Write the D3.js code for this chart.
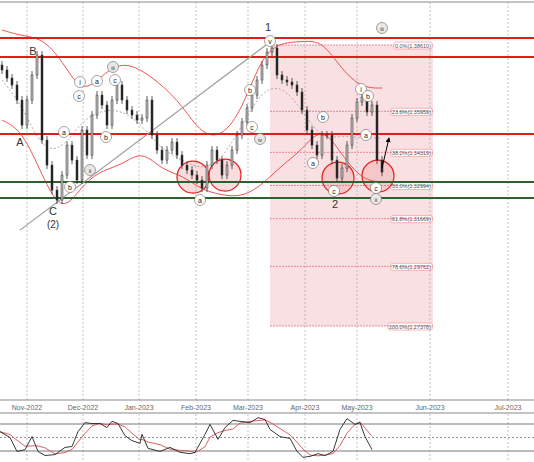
<!DOCTYPE html><html><head><meta charset="utf-8">
<script src="https://cdn.jsdelivr.net/npm/d3@7/dist/d3.min.js"></script>
<style>body{margin:0;background:#fff}svg{display:block;font-family:"Liberation Sans",Arial,sans-serif}</style></head><body>
<script>
const closes=[1.3761,1.3729,1.3701,1.3641,1.3541,1.3641,1.3741,1.3821,1.3481,1.3381,1.3281,1.3241,1.3341,1.3461,1.3401,1.3321,1.3521,1.3421,1.3581,1.3661,1.3621,1.3541,1.3641,1.3701,1.3641,1.3601,1.3581,1.3561,1.3569,1.3641,1.3501,1.3441,1.3401,1.3441,1.3473,1.3421,1.3381,1.3361,1.3341,1.3321,1.3289,1.3381,1.3441,1.3401,1.3341,1.3381,1.3441,1.3501,1.3553,1.3609,1.3661,1.3721,1.3781,1.3833,1.3849,1.3741,1.3721,1.3713,1.3701,1.3673,1.3601,1.3521,1.3461,1.3421,1.3501,1.3501,1.3401,1.3329,1.3369,1.3461,1.3569,1.3633,1.3653,1.3593,1.3621,1.3401,1.3353];
const bandIdx=[0,4,8,12,16,20,24,28,32,36,40,44,48,52,56,60,64,68,72,76];
const upperBand=[1.3921,1.3897,1.3889,1.3801,1.3661,1.3741,1.3793,1.3761,1.3701,1.3621,1.3501,1.3493,1.3601,1.3821,1.3873,1.3873,1.3881,1.3761,1.3689,1.3689];
const lowerBand=[1.3561,1.3521,1.3341,1.3181,1.3301,1.3361,1.3381,1.3441,1.3361,1.3341,1.3281,1.3261,1.3253,1.3301,1.3381,1.3441,1.3541,1.3421,1.3321,1.3313];
const midBand=[1.3721,1.3621,1.3441,1.3441,1.3561,1.3601,1.3601,1.3541,1.3441,1.3401,1.3361,1.3401,1.3541,1.3681,1.3701,1.3601,1.3481,1.3501,1.3489,1.3489];
const redLevels=[1.3889,1.3813,1.3505];
const greenLevels=[1.3313,1.3249];
const fibPct=["0.0%","23.6%","38.2%","50.0%","61.8%","78.6%","100.0%"];
const fibPrice=[1.38610,1.35959,1.34319,1.32994,1.31669,1.29762,1.27378];
const months=["Nov-2022","Dec-2022","Jan-2023","Feb-2023","Mar-2023","Apr-2023","May-2023","Jun-2023","Jul-2023"];
const monthIdx=[5,16.2,27.4,38.8,49.2,60.6,71,85.6,101.2];
const circleIdx=[38.2,44.6,67.2,75.2], circlePrice=[1.3333,1.3341,1.3329,1.3337];
const stochIdx=[-0.4,1.6,3,4.6,6,7.2,8.6,10.6,12.6,14,15.2,16.6,18,19.6,21,22,23.2,24.6,26,27.6,28,29.2,31.6,33.6,35.6,37.6,38.6,40.6,41.6,43.2,44.6,46.2,47.6,49.6,51.2,52.6,53.6,55.6,57.6,59,60.2,61.6,63.2,64.6,66.2,67.6,69,70.6,71.6,72.6,74];
const stochK=[63,50,19,23,52,19,10,12,28,30,63,83,81,81,72,86,81,54,43,37,57,26,19,28,17,14,17,57,79,46,72,88,86,83,94,90,68,52,48,19,6,8,14,10,19,68,92,79,83,52,23];
const labels=[["(i)",80,82],["(c)",79,96],["(a)",97,81],["(iii)",113,67],["(c)",115,80],["(a)",64,132],["(b)",70,187],["(ii)",90,170],["(b)",106,137],["(a)",200,200],["(b)",250,90],["(c)",252,127],["(iv)",260,139],["(v)",270,41],["(b)",323,117],["(a)",313,163],["(c)",334,191],["(i)",361,89],["(b)",368,96],["(a)",366,135],["(c)",376,188],["(ii)",376,199],["(iii)",382,28]];

const W=534,H=462;
const svg=d3.select("body").append("svg").attr("width",W).attr("height",H);
const x=d3.scaleLinear().domain([0,76]).range([2,382]);
const y=d3.scaleLinear().domain([1.38610,1.27378]).range([45,326]);
const ys=d3.scaleLinear().domain([0,100]).range([460,415]);
const fx0=x(53.6),fx1=x(86.2);
svg.append("rect").attr("x",fx0).attr("y",y(fibPrice[0])).attr("width",fx1-fx0).attr("height",y(fibPrice[6])-y(fibPrice[0])).attr("fill","#f9e1e3");
monthIdx.forEach(m=>{svg.append("line").attr("x1",x(m)).attr("x2",x(m)).attr("y1",2).attr("y2",H).attr("stroke","#aaa").attr("stroke-dasharray","2,2").attr("stroke-width",0.7);});
fibPrice.forEach((p,i)=>{svg.append("line").attr("x1",fx0).attr("x2",fx1).attr("y1",y(p)).attr("y2",y(p)).attr("stroke","#e06070").attr("stroke-dasharray","2,1").attr("stroke-width",0.7);
 const t=svg.append("text").attr("x",fx1-2).attr("y",y(p)+2.5).attr("text-anchor","end").attr("font-size",5.5).attr("fill","#555").text(fibPct[i]+"("+p.toFixed(5)+")");
 const b=t.node().getBBox();svg.insert("rect","text").attr("x",b.x-1).attr("y",b.y-0.5).attr("width",b.width+2).attr("height",b.height+1).attr("fill","#fff").attr("stroke","#e88").attr("stroke-width",0.6).attr("rx",1.5);
});
circleIdx.forEach((c,i)=>svg.append("circle").attr("cx",x(c)).attr("cy",y(circlePrice[i])).attr("r",16).attr("fill","rgba(240,140,140,0.3)").attr("stroke","#e02020").attr("stroke-width",1.2));
const line=d3.line().x((d,i)=>x(bandIdx[i])).y(d=>y(d)).curve(d3.curveBasis);
svg.append("path").attr("d",line(upperBand)).attr("fill","none").attr("stroke","#f04040").attr("stroke-width",0.9);
svg.append("path").attr("d",line(lowerBand)).attr("fill","none").attr("stroke","#f04040").attr("stroke-width",0.9);
svg.append("path").attr("d",line(midBand)).attr("fill","none").attr("stroke","#999").attr("stroke-dasharray","2,2").attr("stroke-width",0.8);
redLevels.forEach(p=>svg.append("line").attr("x1",0).attr("x2",W).attr("y1",y(p)).attr("y2",y(p)).attr("stroke","#e41b1b").attr("stroke-width",2));
greenLevels.forEach(p=>svg.append("line").attr("x1",0).attr("x2",W).attr("y1",y(p)).attr("y2",y(p)).attr("stroke","#2f5e2f").attr("stroke-width",2));
svg.append("line").attr("x1",x(3.6)).attr("y1",y(1.3121)).attr("x2",x(53.6)).attr("y2",y(1.3873)).attr("stroke","#999").attr("stroke-width",1.2);
closes.forEach((c,i)=>{const o=i?closes[i-1]:c+0.002;const hi=Math.max(o,c)+0.0016,lo=Math.min(o,c)-0.0016;
 svg.append("line").attr("x1",x(i)).attr("x2",x(i)).attr("y1",y(hi)).attr("y2",y(lo)).attr("stroke","#333").attr("stroke-width",0.8);
 svg.append("rect").attr("x",x(i)-1).attr("width",2).attr("y",y(Math.max(o,c))).attr("height",Math.max(1,Math.abs(y(o)-y(c)))).attr("fill",c>=o?"#bbb":"#222").attr("stroke","#333").attr("stroke-width",0.5);
});
svg.append("defs").append("marker").attr("id","ah").attr("viewBox","0 0 6 6").attr("refX",5).attr("refY",3).attr("markerWidth",5).attr("markerHeight",5).attr("orient","auto").append("path").attr("d","M0,0L6,3L0,6z").attr("fill","#000");
svg.append("line").attr("x1",x(76)).attr("y1",y(1.3369)).attr("x2",x(77.4)).attr("y2",y(1.3489)).attr("stroke","#000").attr("marker-end","url(#ah)");
[["1",268,31,11],["B",33,55,11],["A",20,146,11],["C",53,215,11],["(2)",53,228,10],["2",335,208,11]].forEach(d=>svg.append("text").attr("x",d[1]).attr("y",d[2]).attr("text-anchor","middle").attr("font-size",d[3]).attr("fill","#333").text(d[0]));
labels.forEach(d=>{const roman=d[0].length>3||d[0]=="(ii)";
 svg.append("circle").attr("cx",d[1]).attr("cy",d[2]).attr("r",5.5).attr("fill",roman?"#e8e8e8":"#fff").attr("stroke","#666").attr("stroke-width",0.6);
 svg.append("text").attr("x",d[1]).attr("y",d[2]+2.5).attr("text-anchor","middle").attr("font-size",d[0].length>3?5.5:7).attr("fill","#222").text(d[0].replace(/[()]/g,""));});
svg.append("line").attr("x1",0).attr("x2",W).attr("y1",2).attr("y2",2).attr("stroke","#888");
svg.append("rect").attr("x",0).attr("y",400).attr("width",W).attr("height",13).attr("fill","#fff");
[400,413].forEach(v=>svg.append("line").attr("x1",0).attr("x2",W).attr("y1",v).attr("y2",v).attr("stroke","#888"));
months.forEach((m,i)=>svg.append("text").attr("x",x(monthIdx[i])).attr("y",409.5).attr("text-anchor","middle").attr("font-size",7).attr("fill","#666").text(m));
[80,20].forEach(v=>svg.append("line").attr("x1",0).attr("x2",W).attr("y1",ys(v)).attr("y2",ys(v)).attr("stroke","#555").attr("stroke-width",0.8));
svg.append("line").attr("x1",0).attr("x2",W).attr("y1",ys(50)).attr("y2",ys(50)).attr("stroke","#777").attr("stroke-dasharray","2,2").attr("stroke-width",0.8);
const sig=stochK.map((v,i)=>d3.mean(stochK.slice(Math.max(0,i-2),i+1)));
const sl=d3.line().x((d,i)=>x(stochIdx[i])).y(d=>ys(d));
svg.append("path").attr("d",sl(sig)).attr("fill","none").attr("stroke","#d05050").attr("stroke-width",0.9);
svg.append("path").attr("d",sl(stochK)).attr("fill","none").attr("stroke","#222").attr("stroke-width",0.9);
</script></body></html>
